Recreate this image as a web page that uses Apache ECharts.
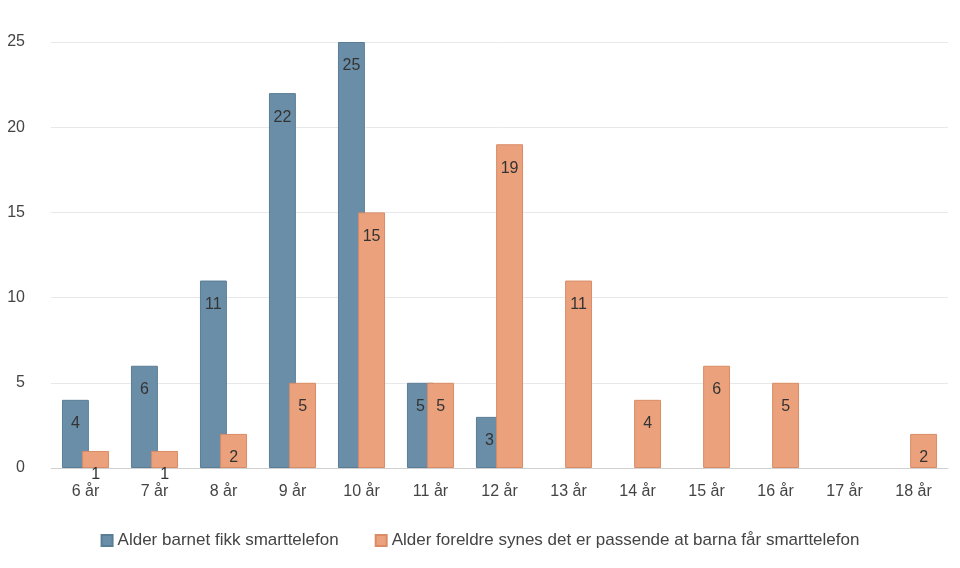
<!DOCTYPE html>
<html><head><meta charset="utf-8">
<script src="https://cdn.jsdelivr.net/npm/echarts@6/dist/echarts.min.js"></script>
<style>html,body{margin:0;background:#fff}#c{width:960px;height:568px}</style>
</head><body><div id="c"></div>
<script>
const categories = ['6 år','7 år','8 år','9 år','10 år','11 år','12 år','13 år','14 år','15 år','16 år','17 år','18 år'];
const gotPhone = [4,6,11,22,25,5,3,null,null,null,null,null,null];
const appropriate = [1,1,2,5,15,5,19,11,4,6,5,null,2];
const seriesNames = ['Alder barnet fikk smarttelefon','Alder foreldre synes det er passende at barna får smarttelefon'];
const lbl = {show:true, position:'insideTop', distance:16, color:'#333', fontSize:16, fontFamily:'Liberation Sans'};
const chart = echarts.init(document.getElementById('c'));
chart.setOption({
  animation:false,
  textStyle:{fontFamily:'Liberation Sans'},
  grid:{left:51,right:12,top:42,bottom:100},
  legend:{bottom:14,left:'center',icon:'rect',itemWidth:11,itemHeight:11,itemGap:36,
    textStyle:{fontSize:17,color:'#444'}},
  xAxis:{type:'category',data:categories,axisTick:{show:false},
    axisLine:{lineStyle:{color:'#d0d0d0'}},axisLabel:{fontSize:16,color:'#444',margin:16}},
  yAxis:{type:'value',min:0,max:25,interval:5,
    splitLine:{lineStyle:{color:'#e8e8e8'}},axisLabel:{fontSize:16,color:'#444',margin:26}},
  series:[
    {name:seriesNames[0],type:'bar',data:gotPhone,barWidth:'39%',barGap:'-25%',
     itemStyle:{color:'#6b8ea8',borderColor:'#5a7d96',borderWidth:1},label:lbl},
    {name:seriesNames[1],type:'bar',data:appropriate,barWidth:'39%',
     itemStyle:{color:'#eaa17c',borderColor:'#d98c66',borderWidth:1},label:lbl}
  ]
});
</script></body></html>
